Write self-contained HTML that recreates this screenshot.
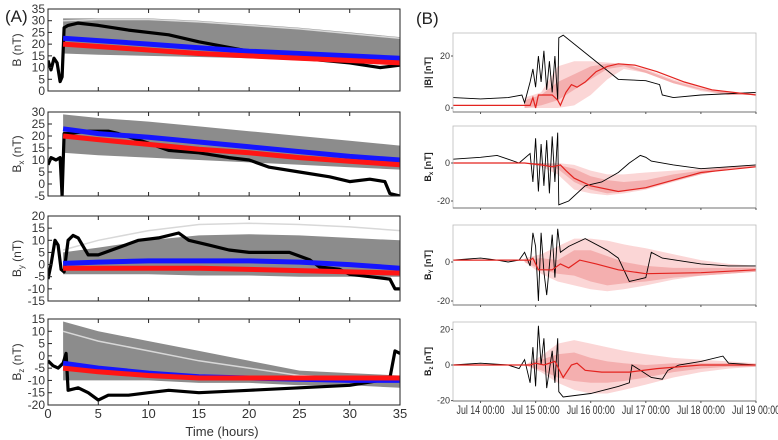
<!DOCTYPE html>
<html><head><meta charset="utf-8"><style>
body{margin:0;background:#fff;width:778px;height:440px;overflow:hidden;font-family:"Liberation Sans",sans-serif}
svg{display:block}
</style></head><body>
<svg id="fig" width="778" height="440" viewBox="0 0 778 440" xmlns="http://www.w3.org/2000/svg">
<text x="5" y="22" font-size="17" fill="#222">(A)</text>
<text x="416" y="24" font-size="17" fill="#222">(B)</text>
<text x="222" y="436" font-size="13" fill="#333" text-anchor="middle">Time (hours)</text>
</svg>
<script>
// ===== Panel A data (time in hours) =====
const aB_t=[0,0.3,0.6,0.9,1.2,1.4,1.6,2,3,5,8,12,15,20,25,30,33,35];
const aB_v=[13,9,14,12,4,6,27,28,29,28,26,24,21,17,14,12,10,11];
const aBx_t=[0,0.3,0.8,1.2,1.4,1.6,2,4,6,7,10,12,15,18,20,22,25,28,30,32,33.5,34,35];
const aBx_v=[8,11,10,11,-5,21,21,22,22,21,17,14,13,11,10,7,5,3,1,2,1,-4,-5];
const aBy_t=[0,0.3,0.7,1,1.3,1.6,2,2.5,3,4,5,7,9,11,13,14,16,18,20,22,24,26,27,29,30,32,34,34.5,35];
const aBy_v=[-6,0,10,8,-2,-3,10,12,11,4,4,7,10,11,13,10,8,6,5,5,5,2,-1,-2,-4,-5,-6,-10,-10];
const aBz_t=[0,0.5,1,1.5,1.8,2,3,4,5,6,8,10,12,15,20,25,30,33,34,34.5,35];
const aBz_v=[-2,-4,-5,-3,1,-14,-13,-15,-18,-16,-16,-15,-14,-15,-14,-13,-12,-10,-9,2,1];
const ensT=[1.5,5,10,15,20,25,30,35];
const aB_up=[31,31,31,30,28.5,27,25,23], aB_lo=[16,15.5,15,14.5,14,13,12,11];
const aBx_up=[29,27.5,26,24,22,20,18,16], aBx_lo=[13,12,11,10,9,8,7,6];
const aBy_up=[5,7,10,12,12.5,12,11,10], aBy_lo=[-4,-4,-4,-4.5,-4.5,-5,-5,-5];
const aBy_ln=[6,10,14,16.5,17,16.5,15.5,14];
const aBz_up=[14,10,6,2,-2,-6,-7,-8], aBz_lo=[-10,-10,-10,-11,-11,-12,-12,-13];
const aBz_ln=[10,6,2,-2,-5,-8,-9,-9];
const aB_ln=[30,30.5,30.5,29.5,28,26.5,24.5,22.5];
const blueB=[22.5,21.5,20,18.5,17,16,15,14], redB=[20,19,17.5,16,15,14,13,12];
const blueBx=[23,21,19.5,17.5,15.5,13.5,11.5,10], redBx=[20,18.5,16.5,14.5,13,11,9.5,8];
const blueBy=[0.5,1,1.5,1.5,1.5,1,0,-1.5], redBy=[-1.5,-1.5,-1.5,-1.5,-2,-2.5,-3,-3.5];
const blueBz=[-3,-5,-7,-8.5,-9,-9.5,-10,-10], redBz=[-5,-6.5,-8,-9,-9,-9,-9,-9];
// ===== Panel B data (days from Jul 13 12:00) =====
const dTicks=["Jul 14 00:00","Jul 15 00:00","Jul 16 00:00","Jul 17 00:00","Jul 18 00:00","Jul 19 00:00"];
const b1_t=[0,0.5,1,1.25,1.3,1.4,1.45,1.5,1.55,1.6,1.65,1.7,1.75,1.8,1.85,1.9,1.92,2.0,3.0,3.5,3.75,3.8,4,4.5,5.5];
const b1_v=[4,3.5,4,5,2,10,15,8,20,10,22,7,18,6,20,3,27,28,11,10.5,9,5,4,5,6];
const b1_m_t=[0,1.4,1.45,1.5,1.55,1.8,1.9,1.95,2.05,2.15,2.25,2.4,2.6,2.8,3.0,3.3,3.7,4.2,4.7,5.5];
const b1_m=[1,1,4,0,5,5,3,1,6,9,8,10,14,16,17,16.5,14,10,7,5];
const b2_t=[0,0.5,0.8,1.0,1.2,1.4,1.45,1.5,1.55,1.6,1.65,1.7,1.75,1.8,1.85,1.9,1.92,2.1,2.4,2.7,3.0,3.2,3.4,3.5,3.6,4,4.5,5,5.5];
const b2_v=[2,3,4,2,0,5,-10,13,-15,10,-12,12,-16,14,-10,16,-22,-20,-12,-10,-5,0,4,3,1,-1,-3,-2,-1];
const b2_m_t=[0,1.3,1.6,1.8,1.95,2.05,2.2,2.5,3.0,3.5,4,4.5,5.5];
const b2_m=[0,0,-1,-2,-1,-4,-8,-12,-15,-13,-9,-5,-2];
const b3_t=[0,0.5,0.8,1,1.2,1.3,1.4,1.45,1.5,1.55,1.6,1.65,1.7,1.8,1.85,1.9,1.95,2.1,2.4,2.8,3.0,3.2,3.5,3.6,3.8,4.5,5,5.5];
const b3_v=[1,2,1,0,1,5,-2,15,8,-20,15,-5,-17,14,-8,17,5,8,12,6,2,-10,-8,5,2,-1,-2,-2];
const b3_m_t=[0,1.4,1.45,1.55,1.8,1.95,2.1,2.3,2.6,3,3.5,4.5,5.5];
const b3_m=[1,1,2,-4,-4,-1,-3,1,-1,-4,-6,-5.5,-4];
const b4_t=[0,0.5,1,1.2,1.3,1.4,1.45,1.5,1.55,1.6,1.65,1.7,1.8,1.85,1.9,1.92,2.0,2.5,3.0,3.2,3.25,3.4,3.6,3.8,3.9,4.1,4.5,4.9,5.0,5.5];
const b4_v=[0,1,0,-2,3,-10,10,-12,22,0,15,-13,8,-10,15,-15,-18,-16,-12,-10,0,-3,-7,-8,-3,0,2,5,1,0];
const b4_m_t=[0,1.4,1.5,1.65,1.85,2.0,2.15,2.25,2.4,2.7,3.2,3.7,4.5,5.5];
const b4_m=[0,0,1,0,2,-7,0,1,-3,-4,-4,-2,0,0];
const bandT=[1.3,1.6,1.9,2.2,2.5,2.8,3.1,3.5,4.0,4.5,5.0,5.5];
const b1_lu=[4,6,16,18,18,17.5,17,15,11,8,6,5.5], b1_ll=[0,0,0,1,5,11,15,13.5,9.5,6.5,5,5];
const b1_du=[3,5,10,13,16,17,17,14.5,10.5,7.5,6,5.5], b1_dl=[0,1,3,7,11,15,16,13.5,9.5,7,5,5];
const b2_lu=[0,0,0,-1,-4,-6,-6,-5,-4,-3,-2,-1], b2_ll=[0,-2,-6,-14,-16,-17,-16,-14,-10,-6,-3,-2];
const b2_du=[0,0,-1,-3,-7,-9,-10,-9,-6,-4,-2,-1.5], b2_dl=[0,-1,-3,-10,-14,-16,-15,-13.5,-9.5,-6,-3,-2];
const b3_lu=[2,4,8,12,12,11,9,7,4,1,-1,-2], b3_ll=[0,-6,-10,-12,-14,-15,-14,-12,-9,-7,-6,-5];
const b3_du=[1,2,1,6,6,3,0,-2,-3,-3,-3,-3], b3_dl=[0,-4,-6,-7,-10,-12,-11,-10,-8,-7,-6,-5];
const b4_lu=[0,5,12,14,12,10,8,6,4,3,2,1], b4_ll=[0,-4,-10,-14,-16,-16,-14,-11,-7,-4,-2,-1];
const b4_du=[0,3,6,7,4,2,1,0,1,1,1,0.5], b4_dl=[0,-3,-7,-9,-10,-10,-9,-7,-4,-2,-1,-1];

const svg=document.getElementById('fig');
const NS='http://www.w3.org/2000/svg';
function mk(tag,attrs,parent){const e=document.createElementNS(NS,tag);for(const k in attrs)e.setAttribute(k,attrs[k]);(parent||svg).appendChild(e);return e;}
function pathOf(ts,vs,sx,sy){return ts.map((t,i)=>(i?'L':'M')+sx(t).toFixed(1)+','+sy(vs[i]).toFixed(1)).join('');}
function bandOf(ts,up,lo,sx,sy){let d=pathOf(ts,up,sx,sy);for(let i=ts.length-1;i>=0;i--)d+='L'+sx(ts[i]).toFixed(1)+','+sy(lo[i]).toFixed(1);return d+'Z';}

// ===== Panel A =====
const AX0=48,AX1=400;
const sxA=t=>AX0+(t/35)*(AX1-AX0);
const aPanels=[
 {name:'b-total',top:9,bot:91,ymin:0,ymax:35,lab:'B (nT)',sub:'',t:aB_t,v:aB_v,up:aB_up,lo:aB_lo,ln:aB_ln,blue:blueB,red:redB},
 {name:'bx',top:112,bot:196,ymin:-5,ymax:30,lab:'B',sub:'x',t:aBx_t,v:aBx_v,up:aBx_up,lo:aBx_lo,ln:null,blue:blueBx,red:redBx},
 {name:'by',top:216,bot:301,ymin:-15,ymax:20,lab:'B',sub:'y',t:aBy_t,v:aBy_v,up:aBy_up,lo:aBy_lo,ln:aBy_ln,blue:blueBy,red:redBy},
 {name:'bz',top:319,bot:405,ymin:-20,ymax:15,lab:'B',sub:'z',t:aBz_t,v:aBz_v,up:aBz_up,lo:aBz_lo,ln:aBz_ln,blue:blueBz,red:redBz}
];
aPanels.forEach((p,pi)=>{
 const sy=v=>p.bot-(v-p.ymin)/(p.ymax-p.ymin)*(p.bot-p.top);
 const g=mk('g',{});
 
 
 const cp=mk('clipPath',{id:'ca'+pi},g);mk('rect',{x:AX0,y:p.top,width:AX1-AX0,height:p.bot-p.top},cp);
 const pl=mk('g',{'clip-path':'url(#ca'+pi+')'},g);
 const band=mk('path',{d:bandOf(ensT,p.up,p.lo,sxA,sy),fill:'#8c8c8c'},pl);
 
 
 if(p.ln){const l=mk('path',{d:pathOf(ensT,p.ln,sxA,sy),fill:'none',stroke:'#d8d8d8','stroke-width':1.5},pl);
  
  }
 const ob=mk('path',{d:pathOf(p.t,p.v,sxA,sy),fill:'none',stroke:'#000','stroke-width':3.2,'stroke-linejoin':'round'},pl);
 
 
 const bl=mk('path',{d:pathOf(ensT,p.blue,sxA,sy),fill:'none',stroke:'#1515ff','stroke-width':5},pl);
 
 
 const rl=mk('path',{d:pathOf(ensT,p.red,sxA,sy),fill:'none',stroke:'#ff1515','stroke-width':5},pl);
 
 
 mk('rect',{x:AX0,y:p.top,width:AX1-AX0,height:p.bot-p.top,fill:'none',stroke:'#222','stroke-width':1},g);
 for(let v=p.ymin;v<=p.ymax;v+=5){
  const y=sy(v);
  const tx=mk('text',{x:AX0-3,y:y+4,'font-size':12,fill:'#333','text-anchor':'end'},g);tx.textContent=v;
  
  
  mk('line',{x1:AX0,x2:AX0+4,y1:y,y2:y,stroke:'#222'},g);
 }
 for(let t=5;t<35;t+=5){mk('line',{x1:sxA(t),x2:sxA(t),y1:p.top,y2:p.top+4,stroke:'#222'},g);mk('line',{x1:sxA(t),x2:sxA(t),y1:p.bot,y2:p.bot-4,stroke:'#222'},g);}
 const cy=(p.top+p.bot)/2;
 const yl=mk('text',{x:0,y:0,'font-size':12,fill:'#333','text-anchor':'middle',transform:'translate(21,'+cy+') rotate(-90)'},g);
 
 
 if(p.sub){yl.innerHTML='B<tspan font-size="8" dy="3">'+p.sub+'</tspan><tspan dy="-3">  (nT)</tspan>';}else yl.textContent=p.lab;
});
for(let t=0;t<=35;t+=5){const tx=mk('text',{x:sxA(t),y:418,'font-size':13,fill:'#333','text-anchor':'middle'});tx.textContent=t;
 
 }

// ===== Panel B =====
const BX0=453,BX1=756;
const sxB=d=>BX0+(d/5.5)*(BX1-BX0);
const bPanels=[
 {name:'b-mag',top:33,bot:112,y0:108,k:2.6,ticks:[0,20],lab:'|B| [nT]',sub:'',t:b1_t,v:b1_v,mt:b1_m_t,m:b1_m,lu:b1_lu,ll:b1_ll,du:b1_du,dl:b1_dl},
 {name:'bx',top:126,bot:208,y0:163,k:1.9,ticks:[-20,0],lab:'B',sub:'x',t:b2_t,v:b2_v,mt:b2_m_t,m:b2_m,lu:b2_lu,ll:b2_ll,du:b2_du,dl:b2_dl},
 {name:'by',top:225,bot:305,y0:262,k:1.95,ticks:[-20,0],lab:'B',sub:'Y',t:b3_t,v:b3_v,mt:b3_m_t,m:b3_m,lu:b3_lu,ll:b3_ll,du:b3_du,dl:b3_dl},
 {name:'bz',top:322,bot:401,y0:365,k:1.78,ticks:[-20,0,20],lab:'B',sub:'z',t:b4_t,v:b4_v,mt:b4_m_t,m:b4_m,lu:b4_lu,ll:b4_ll,du:b4_du,dl:b4_dl}
];
bPanels.forEach((p,pi)=>{
 const sy=v=>p.y0-v*p.k;
 const g=mk('g',{});
 
 
 const cp=mk('clipPath',{id:'cb'+pi},g);mk('rect',{x:BX0,y:p.top,width:BX1-BX0,height:p.bot-p.top},cp);
 const pl=mk('g',{'clip-path':'url(#cb'+pi+')'},g);
 const lb=mk('path',{d:bandOf(bandT,p.lu,p.ll,sxB,sy),fill:'#fbd6d6'},pl);
 
 
 const db=mk('path',{d:bandOf(bandT,p.du,p.dl,sxB,sy),fill:'#f4afaf'},pl);
 
 
 const ob=mk('path',{d:pathOf(p.t,p.v,sxB,sy),fill:'none',stroke:'#000','stroke-width':0.9},pl);
 
 
 const ml=mk('path',{d:pathOf(p.mt,p.m,sxB,sy),fill:'none',stroke:'#e3231f','stroke-width':1.2},pl);
 
 
 mk('rect',{x:BX0,y:p.top,width:BX1-BX0,height:p.bot-p.top,fill:'none',stroke:'#bbb','stroke-width':0.8},g);
 mk('line',{x1:BX0,x2:BX1,y1:p.bot,y2:p.bot,stroke:'#555','stroke-width':0.8},g);
 p.ticks.forEach(v=>{const tx=mk('text',{x:BX0-3,y:sy(v)+3,'font-size':9,fill:'#333','text-anchor':'end'},g);tx.textContent=v;
  
  
  mk('line',{x1:BX0-2,x2:BX0,y1:sy(v),y2:sy(v),stroke:'#555'},g);});
 for(let i=0;i<6;i++){const x=sxB(0.5+i);mk('line',{x1:x,x2:x,y1:p.bot,y2:p.bot+2,stroke:'#555'},g);}
 const cy=(p.top+p.bot)/2;
 const yl=mk('text',{x:0,y:0,'font-size':9,'font-weight':'bold',fill:'#222','text-anchor':'middle',transform:'translate(431,'+cy+') rotate(-90)'},g);
 
 
 if(p.sub){yl.innerHTML='B<tspan font-size="6" dy="2">'+p.sub+'</tspan><tspan dy="-2"> [nT]</tspan>';}else yl.textContent=p.lab;
});
dTicks.forEach((s,i)=>{const tx=mk('text',{x:sxB(0.5+i),y:414,'font-size':11.5,fill:'#333','text-anchor':'middle',textLength:48,lengthAdjust:'spacingAndGlyphs'});tx.textContent=s;
 
 });
</script>
</body></html>
